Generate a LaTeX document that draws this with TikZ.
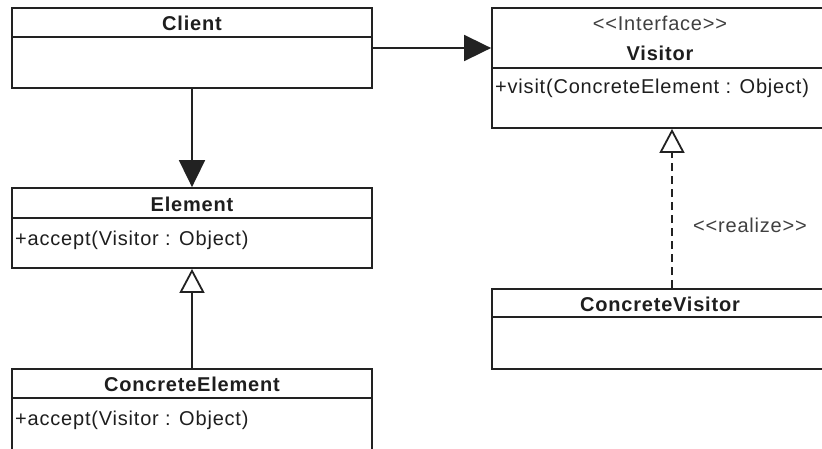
\documentclass[tikz,border=0pt]{standalone}
\usepackage{fontspec}
\usetikzlibrary{arrows.meta}
\newfontfamily\umlfont{Liberation Sans}[LetterSpace=4]
\definecolor{ink}{HTML}{222222}
\definecolor{txt}{HTML}{1E1E1E}
\begin{document}
\begin{tikzpicture}[x=1pt,y=-1pt,
  umlline/.style={draw=ink,line width=1.8pt},
  classbox/.style={umlline,rectangle,inner sep=0pt,fill=white},
  nametext/.style={font=\umlfont\fontsize{20}{24}\selectfont\bfseries,text=txt,inner sep=0pt},
  stereotext/.style={font=\umlfont\fontsize{20}{24}\selectfont,text=txt!85,inner sep=0pt},
  attrtext/.style={font=\umlfont\fontsize{20}{24}\selectfont,text=txt,inner sep=0pt,anchor=west},
  solidtip/.style={-{Triangle[length=27pt,width=26pt]}},
  opentip/.style={-{Triangle[open,length=24pt,width=25pt,fill=white]}},
  realizeline/.style={umlline,dash pattern=on 8pt off 5pt}]
\useasboundingbox (0,0) rectangle (822,448);
\clip (0,0) rectangle (822,448);
\fill[white] (0,0) rectangle (822,448);

% class boxes
\node[classbox,minimum width=360pt,minimum height=80pt] (client) at (192,48) {};
\node[classbox,minimum width=336pt,minimum height=120pt] (visitor) at (660,68) {};
\node[classbox,minimum width=360pt,minimum height=80pt] (element) at (192,228) {};
\node[classbox,minimum width=360pt,minimum height=90pt] (celement) at (192,414) {};
\node[classbox,minimum width=336pt,minimum height=80pt] (cvisitor) at (660,329) {};

% compartment dividers
\draw[umlline] ([yshift=-30pt]client.north west) -- ([yshift=-30pt]client.north east);
\draw[umlline] ([yshift=-61pt]visitor.north west) -- ([yshift=-61pt]visitor.north east);
\draw[umlline] ([yshift=-31pt]element.north west) -- ([yshift=-31pt]element.north east);
\draw[umlline] ([yshift=-30pt]celement.north west) -- ([yshift=-30pt]celement.north east);
\draw[umlline] ([yshift=-29pt]cvisitor.north west) -- ([yshift=-29pt]cvisitor.north east);

% class names and members
\node[nametext] (clientname) at (192,23) {Client};
\node[stereotext] (visitorstereo) at (660,23) {<{}<Interface>{}>};
\node[nametext] (visitorname) at (660,53) {Visitor};
\node[attrtext] (visitorop) at (495,88) {+visit(ConcreteElement : Object)};
\node[nametext] (elementname) at (192,204) {Element};
\node[attrtext] (elementop) at (15,240) {+accept(Visitor : Object)};
\node[nametext] (celementname) at (192,384) {ConcreteElement};
\node[attrtext] (celementop) at (15,420) {+accept(Visitor : Object)};
\node[nametext] (cvisitorname) at (660,304) {ConcreteVisitor};

% associations
\draw[umlline,solidtip] (client.east) -- (client.east -| visitor.west);
\draw[umlline,solidtip] (client.south) -- (element.north);

% generalization
\draw[umlline,opentip] (celement.north) -- (element.south);

% realization
\draw[realizeline,opentip] ([xshift=12pt]cvisitor.north) -- ([xshift=12pt]visitor.south);
\node[stereotext] (realizelabel) at (750,225) {<{}<realize>{}>};
\end{tikzpicture}
\end{document}
